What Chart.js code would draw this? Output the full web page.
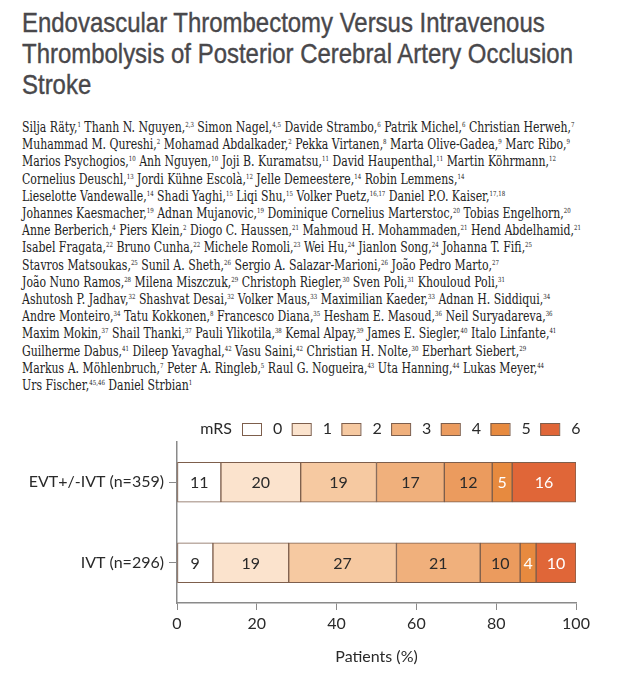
<!DOCTYPE html>
<html>
<head>
<meta charset="utf-8">
<script src="https://cdn.jsdelivr.net/npm/chart.js@4/dist/chart.umd.min.js"></script>
<style>
  body { margin: 0; width: 619px; height: 680px; background: #fff; overflow: hidden; position: relative; }
  #title { position: absolute; left: 22px; top: 7px; font-family: "Liberation Sans", Arial, sans-serif; font-size: 28px; line-height: 31px; color: #49484b; -webkit-text-stroke: 0.4px #49484b; white-space: nowrap; transform-origin: 0 0; }
  #authors { position: absolute; left: 22px; top: 119px; font-family: "DejaVu Serif", "Liberation Serif", serif; font-size: 14px; line-height: 17.2px; color: #222; white-space: nowrap; transform-origin: 0 0; }
  #authors sup { font-size: 7px; vertical-align: 5px; line-height: 0; }
  #wrap { position: absolute; left: 0; top: 405px; width: 619px; height: 275px; }
</style>
</head>
<body>
<div id="title">Endovascular Thrombectomy Versus Intravenous<br>Thrombolysis of Posterior Cerebral Artery Occlusion<br>Stroke</div>
<div id="authors">
Silja Räty,<sup>1</sup> Thanh N. Nguyen,<sup>2,3</sup> Simon Nagel,<sup>4,5</sup> Davide Strambo,<sup>6</sup> Patrik Michel,<sup>6</sup> Christian Herweh,<sup>7</sup><br>
Muhammad M. Qureshi,<sup>2</sup> Mohamad Abdalkader,<sup>2</sup> Pekka Virtanen,<sup>8</sup> Marta Olive-Gadea,<sup>9</sup> Marc Ribo,<sup>9</sup><br>
Marios Psychogios,<sup>10</sup> Anh Nguyen,<sup>10</sup> Joji B. Kuramatsu,<sup>11</sup> David Haupenthal,<sup>11</sup> Martin Köhrmann,<sup>12</sup><br>
Cornelius Deuschl,<sup>13</sup> Jordi Kühne Escolà,<sup>12</sup> Jelle Demeestere,<sup>14</sup> Robin Lemmens,<sup>14</sup><br>
Lieselotte Vandewalle,<sup>14</sup> Shadi Yaghi,<sup>15</sup> Liqi Shu,<sup>15</sup> Volker Puetz,<sup>16,17</sup> Daniel P.O. Kaiser,<sup>17,18</sup><br>
Johannes Kaesmacher,<sup>19</sup> Adnan Mujanovic,<sup>19</sup> Dominique Cornelius Marterstoc,<sup>20</sup> Tobias Engelhorn,<sup>20</sup><br>
Anne Berberich,<sup>4</sup> Piers Klein,<sup>2</sup> Diogo C. Haussen,<sup>21</sup> Mahmoud H. Mohammaden,<sup>21</sup> Hend Abdelhamid,<sup>21</sup><br>
Isabel Fragata,<sup>22</sup> Bruno Cunha,<sup>22</sup> Michele Romoli,<sup>23</sup> Wei Hu,<sup>24</sup> Jianlon Song,<sup>24</sup> Johanna T. Fifi,<sup>25</sup><br>
Stavros Matsoukas,<sup>25</sup> Sunil A. Sheth,<sup>26</sup> Sergio A. Salazar-Marioni,<sup>26</sup> João Pedro Marto,<sup>27</sup><br>
João Nuno Ramos,<sup>28</sup> Milena Miszczuk,<sup>29</sup> Christoph Riegler,<sup>30</sup> Sven Poli,<sup>31</sup> Khouloud Poli,<sup>31</sup><br>
Ashutosh P. Jadhav,<sup>32</sup> Shashvat Desai,<sup>32</sup> Volker Maus,<sup>33</sup> Maximilian Kaeder,<sup>33</sup> Adnan H. Siddiqui,<sup>34</sup><br>
Andre Monteiro,<sup>34</sup> Tatu Kokkonen,<sup>8</sup> Francesco Diana,<sup>35</sup> Hesham E. Masoud,<sup>36</sup> Neil Suryadareva,<sup>36</sup><br>
Maxim Mokin,<sup>37</sup> Shail Thanki,<sup>37</sup> Pauli Ylikotila,<sup>38</sup> Kemal Alpay,<sup>39</sup> James E. Siegler,<sup>40</sup> Italo Linfante,<sup>41</sup><br>
Guilherme Dabus,<sup>41</sup> Dileep Yavaghal,<sup>42</sup> Vasu Saini,<sup>42</sup> Christian H. Nolte,<sup>30</sup> Eberhart Siebert,<sup>29</sup><br>
Markus A. Möhlenbruch,<sup>7</sup> Peter A. Ringleb,<sup>5</sup> Raul G. Nogueira,<sup>43</sup> Uta Hanning,<sup>44</sup> Lukas Meyer,<sup>44</sup><br>
Urs Fischer,<sup>45,46</sup> Daniel Strbian<sup>1</sup>
</div>
<div id="wrap"><canvas id="chart" width="619" height="275"></canvas></div>
<script>
// groups and mRS distribution (%)
const categories = ['EVT+/-IVT (n=359)', 'IVT (n=296)'];
const mrsLevels = ['0', '1', '2', '3', '4', '5', '6'];
const evtValues = [11, 20, 19, 17, 12, 5, 16];
const ivtValues = [9, 19, 27, 21, 10, 4, 10];
const xTicks = [0, 20, 40, 60, 80, 100];

const colors = ['#ffffff', '#fbe3cd', '#f6c9a1', '#f0b07c', '#eb9b5e', '#e78a3f', '#e06638'];
const textColors = ['#2a2a2a', '#2a2a2a', '#2a2a2a', '#2a2a2a', '#2a2a2a', '#ffffff', '#ffffff'];
const FONT = 'Lato, "Open Sans", sans-serif';

// squeeze the text blocks to the widths seen in the reference
function fitWidth(id, target) {
    const el = document.getElementById(id);
    const w = el.getBoundingClientRect().width;
    el.style.transform = 'scaleX(' + (target / w) + ')';
}
fitWidth('title', 551);
fitWidth('authors', 559);

const datasets = mrsLevels.map((lvl, i) => ({
    label: lvl,
    data: [evtValues[i], ivtValues[i]],
    backgroundColor: colors[i],
    borderColor: '#7d5e4c',
    borderWidth: 1,
    borderSkipped: false,
    barThickness: 40
}));

// numbers inside the segments
const segmentLabels = {
    id: 'segmentLabels',
    afterDatasetsDraw(chart) {
        const ctx = chart.ctx;
        ctx.save();
        ctx.font = '16px ' + FONT;
        ctx.textAlign = 'center';
        ctx.textBaseline = 'middle';
        chart.data.datasets.forEach((ds, i) => {
            chart.getDatasetMeta(i).data.forEach((bar, j) => {
                const x = (bar.x + bar.base) / 2;
                ctx.fillStyle = textColors[i];
                ctx.fillText(ds.data[j], x, bar.y + 1);
            });
        });
        ctx.restore();
    }
};

// "mRS" legend row above the bars
const mrsLegend = {
    id: 'mrsLegend',
    afterDraw(chart) {
        const ctx = chart.ctx;
        ctx.save();
        ctx.font = '16px ' + FONT;
        ctx.textBaseline = 'middle';
        ctx.fillStyle = '#2a2a2a';
        ctx.textAlign = 'right';
        ctx.fillText('mRS', 232, 24);
        ctx.textAlign = 'left';
        chart.data.datasets.forEach((ds, i) => {
            const x = 242 + i * 49.7;
            ctx.fillStyle = ds.backgroundColor;
            ctx.fillRect(x, 18, 19, 12);
            ctx.strokeStyle = '#7d5e4c';
            ctx.lineWidth = 1;
            ctx.strokeRect(x + 0.5, 18.5, 19, 12);
            ctx.fillStyle = '#2a2a2a';
            ctx.fillText(ds.label, x + 31, 24);
        });
        ctx.restore();
    }
};

new Chart(document.getElementById('chart'), {
    type: 'bar',
    data: { labels: categories, datasets: datasets },
    options: {
        indexAxis: 'y',
        responsive: false,
        animation: false,
        layout: { padding: { top: 37, right: 43, left: 0, bottom: 10 } },
        plugins: { legend: { display: false }, tooltip: { enabled: false } },
        scales: {
            x: {
                stacked: true,
                min: 0,
                max: 100,
                afterBuildTicks(scale) { scale.ticks = xTicks.map(v => ({ value: v })); },
                grid: { drawOnChartArea: false, tickLength: 7, color: '#8a8a8a' },
                border: { color: '#8a8a8a', width: 1.5 },
                ticks: { color: '#2a2a2a', font: { family: FONT, size: 16 }, padding: 4 },
                title: { display: true, text: 'Patients (%)', color: '#2a2a2a', font: { family: FONT, size: 16 }, padding: { top: 6 } },
                afterFit(scale) { scale.height = 67; }
            },
            y: {
                stacked: true,
                grid: { drawOnChartArea: false, offset: false, tickLength: 8, color: '#8a8a8a' },
                border: { color: '#8a8a8a', width: 1.5 },
                ticks: { color: '#2a2a2a', font: { family: FONT, size: 16 }, padding: 5 },
                afterFit(scale) { scale.width = 177; }
            }
        }
    },
    plugins: [segmentLabels, mrsLegend]
});
</script>
</body>
</html>
